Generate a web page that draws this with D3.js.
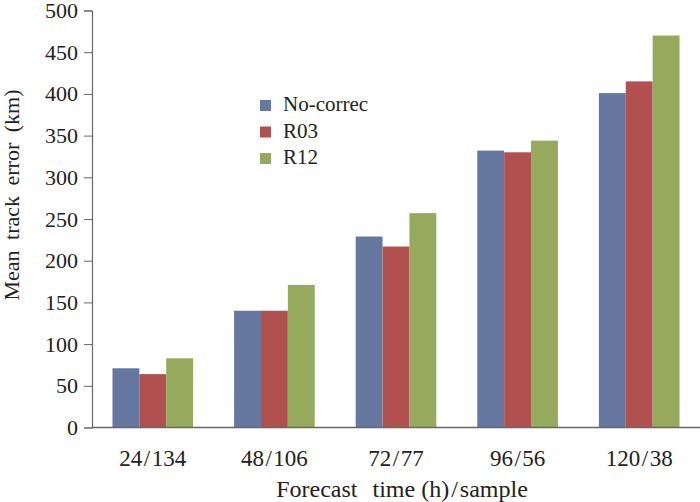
<!DOCTYPE html>
<html>
<head>
<meta charset="utf-8">
<script src="https://cdn.jsdelivr.net/npm/d3@7"></script>
<style>
  html, body { margin: 0; padding: 0; background: #fff; }
  svg { display: block; }
  text { font-family: "Liberation Serif", "DejaVu Serif", serif; fill: #222; }
</style>
</head>
<body>
<svg id="chart" width="700" height="502"></svg>
<script>
const categories = ["24/134", "48/106", "72/77", "96/56", "120/38"];
const seriesNames = ["No-correc", "R03", "R12"];
const noCorrec = [71, 140, 229, 332, 401];
const r03 = [64, 140, 217, 330, 415];
const r12 = [83, 171, 257, 344, 470];
const yTicks = [0, 50, 100, 150, 200, 250, 300, 350, 400, 450, 500];
const colors = ["#66789f", "#b05150", "#95aa5d"];

const seriesValues = [noCorrec, r03, r12];
const table = categories.map((c, i) => ({
  cat: c,
  vals: seriesNames.map((s, j) => ({ key: s, value: seriesValues[j][i], idx: j }))
}));

const svg = d3.select("#chart");
const margin = { left: 92, right: 0, top: 10.5, bottom: 75 };
const W = 700, H = 502;
const x0 = d3.scaleBand().domain(categories)
  .range([margin.left, W - margin.right])
  .paddingInner(0.337).paddingOuter(0.1685);
const x1 = d3.scaleBand().domain(seriesNames).range([0, x0.bandwidth()]).padding(0);
const y = d3.scaleLinear().domain([0, 500]).range([427.5, margin.top]);

// bars
const g = svg.append("g");
g.selectAll("g.grp").data(table).join("g")
  .attr("class", "grp")
  .attr("transform", d => `translate(${x0(d.cat)},0)`)
  .selectAll("rect").data(d => d.vals).join("rect")
  .attr("x", d => x1(d.key))
  .attr("y", d => y(d.value))
  .attr("width", x1.bandwidth())
  .attr("height", d => y(0) - y(d.value))
  .attr("fill", d => colors[d.idx]);

// y axis
const yAxis = d3.axisLeft(y).tickValues(yTicks).tickSize(8).tickPadding(6);
const ya = svg.append("g").attr("transform", `translate(${margin.left},0)`).call(yAxis);
ya.select(".domain").attr("stroke", "#666").attr("stroke-width", 1.2);
ya.selectAll(".tick line").attr("stroke", "#666");
ya.selectAll(".tick text").attr("font-size", 22)
  .attr("font-family", "Liberation Serif").attr("fill", "#222");

// x baseline
svg.append("line")
  .attr("x1", margin.left).attr("x2", W)
  .attr("y1", y(0)).attr("y2", y(0))
  .attr("stroke", "#666").attr("stroke-width", 1.4);

// x tick labels
const xa = svg.append("g");
categories.forEach(c => {
  const parts = c.split("/");
  const t = xa.append("text")
    .attr("x", x0(c) + x0.bandwidth() / 2)
    .attr("y", 466)
    .attr("text-anchor", "middle")
    .attr("font-size", 23);
  t.append("tspan").text(parts[0]);
  t.append("tspan").attr("dx", 1.5).text("/");
  t.append("tspan").attr("dx", 1.5).text(parts[1]);
});

// axis titles
svg.append("text")
  .attr("transform", `translate(19,195) rotate(-90)`)
  .attr("text-anchor", "middle")
  .attr("font-size", 22)
  .attr("word-spacing", 5)
  .text("Mean track error (km)");

const xt = svg.append("text")
  .attr("x", 402).attr("y", 497)
  .attr("text-anchor", "middle")
  .attr("font-size", 24);
xt.append("tspan").text("Forecast ");
xt.append("tspan").attr("dx", 9).text("time (h)");
xt.append("tspan").attr("dx", 2).text("/");
xt.append("tspan").attr("dx", 2).text("sample");

// legend
const leg = svg.append("g").attr("transform", "translate(260,100)");
seriesNames.forEach((s, i) => {
  const row = leg.append("g").attr("transform", `translate(0,${i * 26.5})`);
  row.append("rect").attr("width", 11).attr("height", 11).attr("fill", colors[i]);
  row.append("text").attr("x", 23).attr("y", 11).attr("font-size", 21).text(s);
});
</script>
</body>
</html>
